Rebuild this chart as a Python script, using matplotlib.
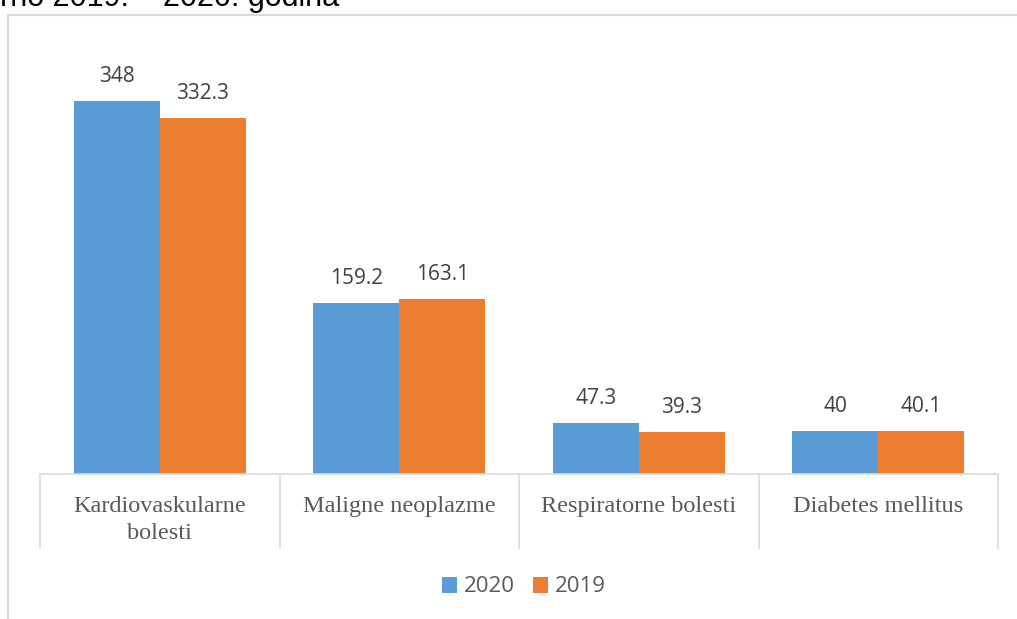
import matplotlib
matplotlib.use("Agg")
import matplotlib.pyplot as plt
from matplotlib.patches import Rectangle
import numpy as np

categories = ["Kardiovaskularne\nbolesti", "Maligne neoplazme", "Respiratorne bolesti", "Diabetes mellitus"]
series_names = ["2020", "2019"]
values_2020 = [348, 159.2, 47.3, 40]
values_2019 = [332.3, 163.1, 39.3, 40.1]
labels_2020 = ["348", "159.2", "47.3", "40"]
labels_2019 = ["332.3", "163.1", "39.3", "40.1"]

W, H = 1017, 619
fig = plt.figure(figsize=(W / 100, H / 100), dpi=100)

# outer chart frame
fig.patches.append(Rectangle((8 / W, 0 - 0.01), 1.2, (H - 15) / H + 0.01, transform=fig.transFigure,
                             fill=False, edgecolor="#D9D9D9", linewidth=1.5))

# clipped title
fig.text(0 / W, 1 - 6 / H, "rno 2019. – 2020. godina", fontsize=22, family="Liberation Sans",
         color="black", va="baseline", ha="left")

left, right, bottom, top = 40, 998, 474, 40
ax = fig.add_axes([left / W, 1 - bottom / H, (right - left) / W, (bottom - top) / H])
ymax = (bottom - top) / (373 / 348)
ax.set_ylim(0, ymax)
ax.set_xlim(-0.5, len(categories) - 0.5)

x = np.arange(len(categories))
bw = 0.36
b1 = ax.bar(x - bw / 2, values_2020, bw, color="#5B9BD5", label=series_names[0], zorder=2)
b2 = ax.bar(x + bw / 2, values_2019, bw, color="#ED7D31", label=series_names[1], zorder=2)

for bars, labs in ((b1, labels_2020), (b2, labels_2019)):
    for r, t in zip(bars, labs):
        ax.annotate(t, (r.get_x() + r.get_width() / 2, r.get_height()), xytext=(0, 10),
                    textcoords="offset points", ha="center", va="bottom",
                    fontsize=15, family="Open Sans", color="#404040")

for s in ("top", "right", "left"):
    ax.spines[s].set_visible(False)
ax.spines["bottom"].set_color("#D9D9D9")
ax.spines["bottom"].set_linewidth(1.2)
ax.set_yticks([])

ax.set_xticks(np.arange(len(categories) + 1) - 0.5)
ax.set_xticklabels([])
ax.tick_params(axis="x", which="major", length=75 * 0.72, width=1.2, color="#D9D9D9", direction="out")
ax.set_xticks(x, minor=True)
ax.set_xticklabels(categories, minor=True, fontsize=17.5, family="Liberation Serif", color="#595959",
                   linespacing=1.35)
ax.tick_params(axis="x", which="minor", length=0, pad=16)

leg = fig.legend(handles=[b1, b2], labels=series_names, loc="center", bbox_to_anchor=(524 / W, 1 - 587 / H),
                 ncol=2, frameon=False, handlelength=0.7, handleheight=0.7, handletextpad=0.3,
                 columnspacing=0.8, prop={"family": "Open Sans", "size": 16})
for t in leg.get_texts():
    t.set_color("#595959")

fig.savefig("out.png", dpi=100)
